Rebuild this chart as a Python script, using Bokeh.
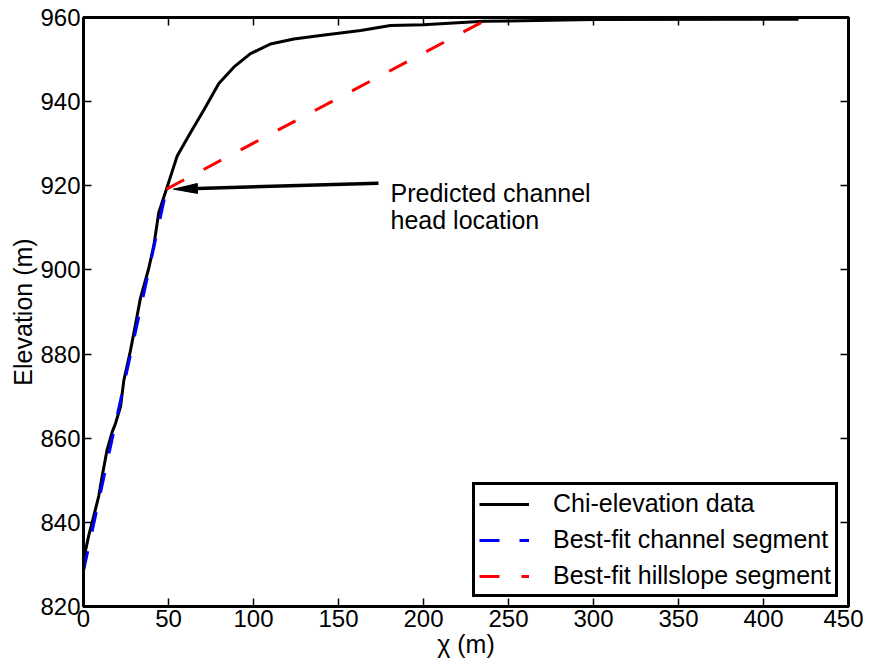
from bokeh.plotting import figure
from bokeh.models import LinearAxis, SingleIntervalTicker, Range1d, Label, CustomJSTickFormatter
from bokeh.embed import file_html
from bokeh.resources import INLINE

# ---- data ----
chi = [0, 0.2, 3.1, 6.1, 9, 11, 13.9, 16.9, 18.8, 21.8, 23.7, 27.6, 30.6, 33.5, 38.4,
       41.4, 44.3, 45.3, 48.8, 55.1, 62.9, 70.8, 79.6, 88.4, 98.2, 110, 123.7, 139.4,
       163, 180.6, 200, 235.3, 300, 420.6]
elev = [828.5, 831.4, 836.9, 841.6, 846.3, 851, 857.3, 861.5, 863.5, 867.5, 873.7, 880.8,
        887.1, 893.3, 900.4, 905.9, 913.7, 914.9, 919.2, 927.1, 932.6, 938.0, 944.3, 948.2,
        951.4, 953.7, 954.9, 955.7, 956.9, 958.1, 958.3, 959.1, 959.5, 959.6]
chan_x = [0, 48.8]
chan_y = [828.5, 919.2]
hill_x = [48.8, 235.3]
hill_y = [919.2, 959.1]
x_ticks_interval = 50
y_ticks_interval = 20
arrow_tail = (173.5, 920.6)
arrow_tip = (52.9, 919.2)
note_lines = ["Predicted channel", "head location"]

FONT = "Liberation Sans"
FS = "24px"
FS_BIG = "25px"
X0, X1, Y0, Y1 = 0, 450, 820, 960

p = figure(width=863, height=660, x_range=Range1d(X0, X1), y_range=Range1d(Y0, Y1),
           output_backend="svg", toolbar_location=None,
           min_border_left=83, min_border_top=17, min_border_right=15, min_border_bottom=5)
p.background_fill_color = "white"
p.border_fill_color = "white"
p.xgrid.visible = False
p.ygrid.visible = False
p.outline_line_color = "black"
p.outline_line_width = 3

p.line(chi, elev, line_color="black", line_width=3, legend_label="Chi-elevation data")
p.line(chan_x, chan_y, line_color="blue", line_width=3, line_dash="20 20",
       legend_label="Best-fit channel segment")
p.line(hill_x, hill_y, line_color="red", line_width=3, line_dash="20 22",
       legend_label="Best-fit hillslope segment")

# arrow: shaft + narrow head
frame_w, frame_h = 765, 594
sx = frame_w / (X1 - X0)
sy = frame_h / (Y1 - Y0)
dxp = (arrow_tail[0] - arrow_tip[0]) * sx
dyp = (arrow_tail[1] - arrow_tip[1]) * sy
L = (dxp ** 2 + dyp ** 2) ** 0.5
ux, uy = dxp / L, dyp / L
head_len, head_half = 24, 5
bx = arrow_tip[0] + ux * head_len / sx
by = arrow_tip[1] + uy * head_len / sy
p.line([arrow_tail[0], bx], [arrow_tail[1], by], line_color="black", line_width=3.5)
p.patch([arrow_tip[0], bx - uy * head_half / sx, bx + uy * head_half / sx],
        [arrow_tip[1], by + ux * head_half / sy, by - ux * head_half / sy],
        fill_color="black", line_color="black", line_width=1)

p.add_layout(Label(x=180.6, y=918.3, text=note_lines[0], text_font=FONT,
                   text_font_size=FS_BIG, text_color="black", text_baseline="alphabetic"))
p.add_layout(Label(x=180.6, y=911.8, text=note_lines[1], text_font=FONT,
                   text_font_size=FS_BIG, text_color="black", text_baseline="alphabetic"))

def style_axis(ax, labels=True):
    ax.axis_line_color = "black"
    ax.axis_line_width = 3
    ax.major_tick_in = 8
    ax.major_tick_out = 0
    ax.major_tick_line_width = 1.5
    ax.major_tick_line_color = "black"
    ax.minor_tick_line_color = None
    if labels:
        ax.major_label_text_font = FONT
        ax.major_label_text_font_size = FS
        ax.major_label_text_color = "black"
        ax.major_label_standoff = 3
        ax.axis_label_text_font = FONT
        ax.axis_label_text_font_size = FS_BIG
        ax.axis_label_text_font_style = "normal"
        ax.axis_label_text_color = "black"
        ax.axis_label_standoff = 0
    else:
        ax.formatter = CustomJSTickFormatter(code="return ''")
        ax.major_label_standoff = 0

p.xaxis.ticker = SingleIntervalTicker(interval=x_ticks_interval, num_minor_ticks=0)
p.yaxis.ticker = SingleIntervalTicker(interval=y_ticks_interval, num_minor_ticks=0)
p.xaxis.axis_label = "χ (m)"
p.yaxis.axis_label = "Elevation (m)"
style_axis(p.xaxis[0])
style_axis(p.yaxis[0])

top = LinearAxis(ticker=SingleIntervalTicker(interval=x_ticks_interval, num_minor_ticks=0))
right = LinearAxis(ticker=SingleIntervalTicker(interval=y_ticks_interval, num_minor_ticks=0))
style_axis(top, labels=False)
style_axis(right, labels=False)
p.add_layout(top, "above")
p.add_layout(right, "right")

lg = p.legend[0]
lg.location = (389, 9)
lg.border_line_color = "black"
lg.border_line_alpha = 1
lg.border_line_width = 3
lg.background_fill_color = "white"
lg.background_fill_alpha = 1
lg.label_text_font = FONT
lg.label_text_font_size = FS_BIG
lg.label_text_color = "black"
lg.glyph_width = 50
lg.glyph_height = 26
lg.label_height = 26
lg.label_standoff = 24
lg.padding = 4
lg.spacing = 7
lg.margin = 0

open("out.html", "w").write(file_html(p, INLINE))
